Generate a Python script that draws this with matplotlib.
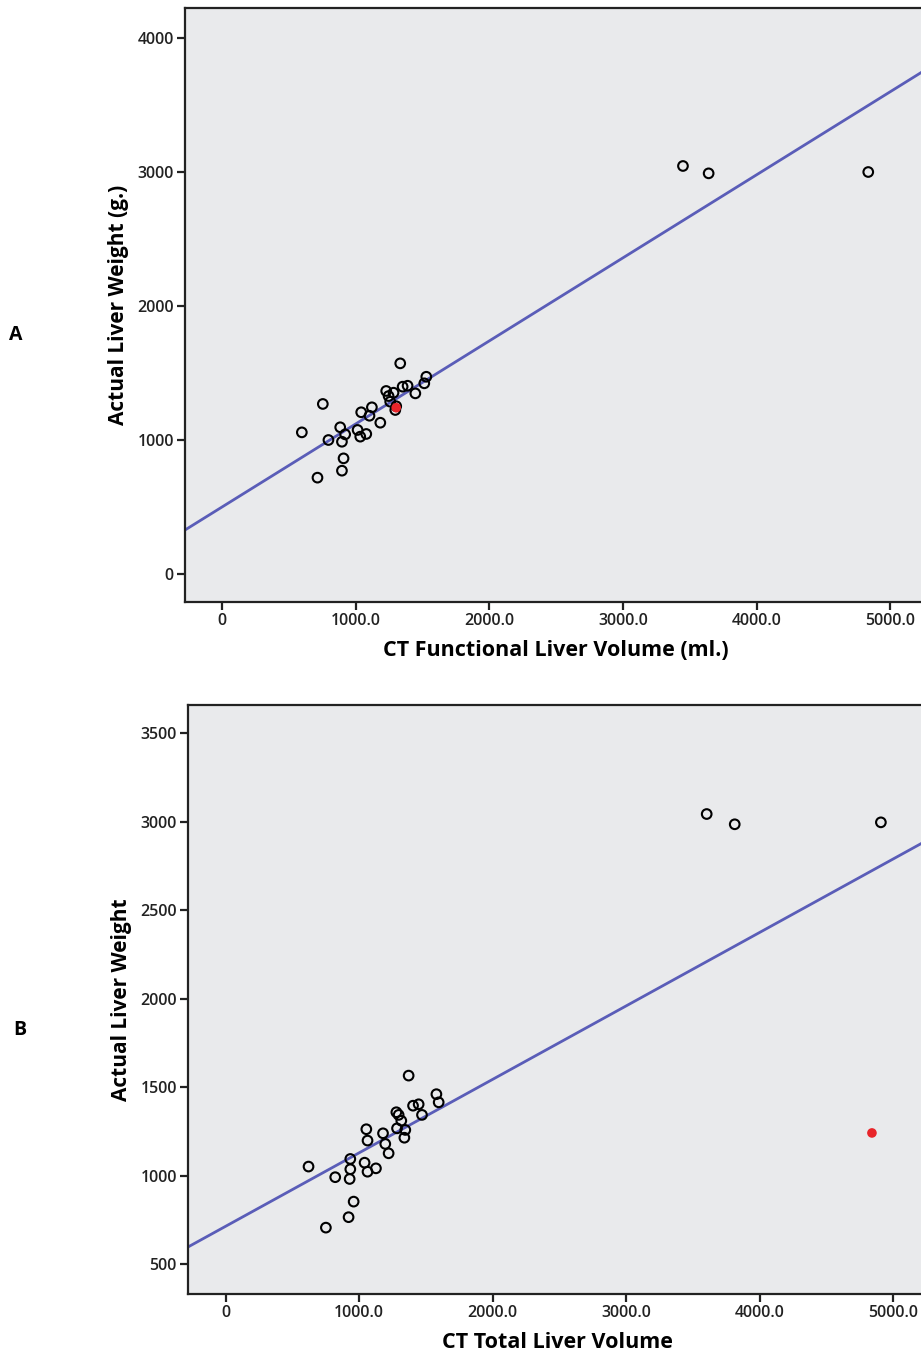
import numpy as np
import matplotlib
matplotlib.use("Agg")
import matplotlib.pyplot as plt

plt.rcParams["font.family"] = ["Open Sans", "DejaVu Sans"]

# Panel A: CT functional liver volume vs actual liver weight
func_vol = [1333, 1528, 1513, 1446, 1351, 1388, 1228, 1283, 1246, 1258, 1296,
            754, 1041, 1121, 1103, 1184, 884, 597, 1014, 921, 796, 897, 1034,
            1079, 909, 897, 714, 1303, 3448, 3640, 4834]
func_wt = [1572, 1472, 1423, 1348, 1398, 1405, 1366, 1353, 1328, 1286, 1224,
           1269, 1207, 1244, 1181, 1129, 1095, 1057, 1075, 1042, 1000, 987, 1025,
           1045, 863, 771, 719, 1252, 3045, 2990, 3000]
func_red = (1303, 1241)
func_fit = (500, 0.62)  # intercept, slope

# Panel B: CT total liver volume vs actual liver weight
tot_vol = [1370, 1578, 1595, 1403, 1445, 1470, 1278, 1295, 1315, 1283, 1345,
           1338, 1053, 1062, 1178, 1195, 1220, 933, 620, 1040, 933, 1062, 1125,
           820, 928, 958, 920, 750, 3603, 3813, 4908]
tot_wt = [1567, 1462, 1416, 1397, 1405, 1345, 1360, 1345, 1312, 1269, 1260,
          1216, 1264, 1200, 1241, 1181, 1128, 1096, 1053, 1075, 1038, 1024, 1043,
          993, 983, 855, 767, 708, 3045, 2987, 2998]
tot_red = (4841, 1243)
tot_fit = (716, 0.415)

x_ticks = [0, 1000, 2000, 3000, 4000, 5000]
x_labels = ["0", "1000.0", "2000.0", "3000.0", "4000.0", "5000.0"]
yticks_a = [0, 1000, 2000, 3000, 4000]
yticks_b = [500, 1000, 1500, 2000, 2500, 3000, 3500]

W, H = 921, 1355
fig = plt.figure(figsize=(W / 100, H / 100), dpi=100)

bg = "#E9EAEC"
line_col = "#5A5DB8"


def make_axes(left, top, bottom, right=926):
    return fig.add_axes([left / W, 1 - bottom / H, (right - left) / W, (bottom - top) / H])


def style(ax, xlim, ylim, yticks, xlabel, ylabel):
    ax.set_facecolor(bg)
    ax.set_xlim(*xlim)
    ax.set_ylim(*ylim)
    ax.set_xticks(x_ticks)
    ax.set_xticklabels(x_labels, fontweight="semibold")
    ax.set_yticks(yticks)
    ax.set_yticklabels([str(v) for v in yticks], fontweight="semibold")
    for s in ax.spines.values():
        s.set_linewidth(1.6)
        s.set_color("#222222")
    ax.tick_params(direction="out", length=6, width=1.6, labelsize=11.5, pad=2,
                   colors="#222222")
    ax.set_xlabel(xlabel, fontsize=15.5, fontweight="bold", labelpad=8)
    ax.set_ylabel(ylabel, fontsize=15, fontweight="bold", labelpad=6)


def panel(ax, xs, ys, red, fit):
    xl = np.array(ax.get_xlim())
    ax.plot(xl, fit[0] + fit[1] * xl, color=line_col, lw=2, zorder=2)
    ax.scatter(xs, ys, s=48, facecolors="none", edgecolors="black",
               linewidths=1.5, zorder=3)
    ax.scatter([red[0]], [red[1]], s=48, color="#E8252A", edgecolors="none",
               zorder=4)


ax_a = make_axes(185, 8, 602)
style(ax_a, (-277, 5266), (-209, 4224), yticks_a,
      "CT Functional Liver Volume (ml.)", "Actual Liver Weight (g.)")
panel(ax_a, func_vol, func_wt, func_red, func_fit)

ax_b = make_axes(188, 705, 1294)
style(ax_b, (-283, 5246), (333, 3661), yticks_b,
      "CT Total Liver Volume", "Actual Liver Weight")
panel(ax_b, tot_vol, tot_wt, tot_red, tot_fit)

fig.text(16 / W, 1 - 335 / H, "A", fontsize=14, fontweight="bold",
         ha="center", va="center")
fig.text(20 / W, 1 - 1030 / H, "B", fontsize=14, fontweight="bold",
         ha="center", va="center")

fig.savefig("out.png", dpi=100)
